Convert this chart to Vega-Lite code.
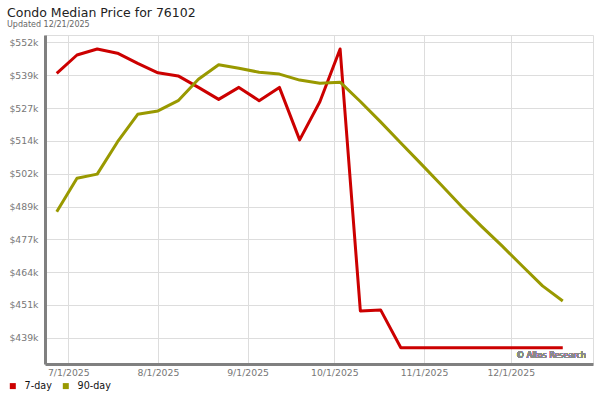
{
  "$schema": "https://vega.github.io/schema/vega-lite/v6.json",
  "autosize": {"type": "none"},
  "padding": {"left": 45, "top": 35, "right": 7, "bottom": 36},
  "width": 548,
  "height": 329,
  "background": "white",
  "config": {
    "font": "DejaVu Sans",
    "view": {"stroke": "#dddddd", "strokeWidth": 1},
    "axis": {"labelOverlap": false, "labelFlush": false}
  },
  "title": {
    "text": "Condo Median Price for 76102",
    "subtitle": "Updated 12/21/2025",
    "anchor": "start",
    "frame": "group",
    "dx": -38,
    "offset": 6,
    "font": "DejaVu Sans",
    "fontSize": 12.5,
    "fontWeight": "normal",
    "color": "#222222",
    "subtitleFont": "DejaVu Sans",
    "subtitleFontSize": 8,
    "subtitleColor": "#666666",
    "subtitlePadding": 2
  },
  "data": {
    "values": [
      {"date": "2025-06-27", "series": "7-day", "price": 540100},
      {"date": "2025-07-04", "series": "7-day", "price": 547100},
      {"date": "2025-07-11", "series": "7-day", "price": 549400},
      {"date": "2025-07-18", "series": "7-day", "price": 547800},
      {"date": "2025-07-25", "series": "7-day", "price": 543900},
      {"date": "2025-08-01", "series": "7-day", "price": 540300},
      {"date": "2025-08-08", "series": "7-day", "price": 539100},
      {"date": "2025-08-15", "series": "7-day", "price": 534700},
      {"date": "2025-08-22", "series": "7-day", "price": 530100},
      {"date": "2025-08-29", "series": "7-day", "price": 534700},
      {"date": "2025-09-05", "series": "7-day", "price": 529600},
      {"date": "2025-09-12", "series": "7-day", "price": 534700},
      {"date": "2025-09-19", "series": "7-day", "price": 514600},
      {"date": "2025-09-26", "series": "7-day", "price": 529200},
      {"date": "2025-10-03", "series": "7-day", "price": 549400},
      {"date": "2025-10-10", "series": "7-day", "price": 449100},
      {"date": "2025-10-17", "series": "7-day", "price": 449500},
      {"date": "2025-10-24", "series": "7-day", "price": 435000},
      {"date": "2025-10-31", "series": "7-day", "price": 435000},
      {"date": "2025-11-07", "series": "7-day", "price": 435000},
      {"date": "2025-11-14", "series": "7-day", "price": 435000},
      {"date": "2025-11-21", "series": "7-day", "price": 435000},
      {"date": "2025-11-28", "series": "7-day", "price": 435000},
      {"date": "2025-12-05", "series": "7-day", "price": 435000},
      {"date": "2025-12-12", "series": "7-day", "price": 435000},
      {"date": "2025-12-19", "series": "7-day", "price": 435000},
      {"date": "2025-06-27", "series": "90-day", "price": 487100},
      {"date": "2025-07-04", "series": "90-day", "price": 499900},
      {"date": "2025-07-11", "series": "90-day", "price": 501500},
      {"date": "2025-07-18", "series": "90-day", "price": 513800},
      {"date": "2025-07-25", "series": "90-day", "price": 524400},
      {"date": "2025-08-01", "series": "90-day", "price": 525700},
      {"date": "2025-08-08", "series": "90-day", "price": 529600},
      {"date": "2025-08-15", "series": "90-day", "price": 537800},
      {"date": "2025-08-22", "series": "90-day", "price": 543400},
      {"date": "2025-08-29", "series": "90-day", "price": 542000},
      {"date": "2025-09-05", "series": "90-day", "price": 540500},
      {"date": "2025-09-12", "series": "90-day", "price": 539800},
      {"date": "2025-09-19", "series": "90-day", "price": 537500},
      {"date": "2025-09-26", "series": "90-day", "price": 536300},
      {"date": "2025-10-03", "series": "90-day", "price": 536700},
      {"date": "2025-10-10", "series": "90-day", "price": 529300},
      {"date": "2025-10-17", "series": "90-day", "price": 521500},
      {"date": "2025-10-24", "series": "90-day", "price": 513400},
      {"date": "2025-10-31", "series": "90-day", "price": 505400},
      {"date": "2025-11-07", "series": "90-day", "price": 497300},
      {"date": "2025-11-14", "series": "90-day", "price": 489100},
      {"date": "2025-11-21", "series": "90-day", "price": 481400},
      {"date": "2025-11-28", "series": "90-day", "price": 474000},
      {"date": "2025-12-05", "series": "90-day", "price": 466300},
      {"date": "2025-12-12", "series": "90-day", "price": 458700},
      {"date": "2025-12-19", "series": "90-day", "price": 452900}
    ]
  },
  "encoding": {
    "x": {
      "field": "date",
      "type": "temporal",
      "scale": {
        "type": "utc",
        "domain": [
          {"year": 2025, "month": 6, "date": 22, "hours": 22, "minutes": 36, "utc": true},
          {"year": 2025, "month": 12, "date": 29, "hours": 11, "utc": true}
        ]
      },
      "axis": {
        "title": null,
        "values": [
          {"year": 2025, "month": 7, "date": 1, "utc": true},
          {"year": 2025, "month": 8, "date": 1, "utc": true},
          {"year": 2025, "month": 9, "date": 1, "utc": true},
          {"year": 2025, "month": 10, "date": 1, "utc": true},
          {"year": 2025, "month": 11, "date": 1, "utc": true},
          {"year": 2025, "month": 12, "date": 1, "utc": true}
        ],
        "labelExpr": "utcFormat(datum.value, '%-m/%-d/%Y')",
        "ticks": false,
        "labelPadding": 4,
        "labelFontSize": 9.3,
        "labelColor": "#777777",
        "labelFont": "DejaVu Sans",
        "domainColor": "#808080",
        "domainWidth": 3,
        "grid": true,
        "gridColor": "#dddddd",
        "gridWidth": 1,
        "labelFlush": false,
        "labelOverlap": false
      }
    },
    "y": {
      "field": "price",
      "type": "quantitative",
      "scale": {"domain": [428790, 554760], "zero": false, "nice": false},
      "axis": {
        "title": null,
        "values": [438850, 451410, 463970, 476530, 489090, 501650, 514210, 526770, 539330, 551890],
        "labelExpr": "'$' + format(datum.value / 1000, '.0f') + 'k'",
        "ticks": false,
        "labelPadding": 7,
        "labelFontSize": 9.3,
        "labelColor": "#777777",
        "labelFont": "DejaVu Sans",
        "labelOverlap": false,
        "labelFlush": false,
        "labelBound": false,
        "domainColor": "#808080",
        "domainWidth": 3,
        "grid": true,
        "gridColor": "#dddddd",
        "gridWidth": 1
      }
    }
  },
  "layer": [
    {
      "mark": {"type": "line", "strokeWidth": 3, "strokeJoin": "round", "strokeCap": "butt"},
      "encoding": {
        "color": {
          "field": "series",
          "type": "nominal",
          "scale": {"domain": ["7-day", "90-day"], "range": ["#cc0000", "#999900"]},
          "legend": {
            "title": null,
            "orient": "none",
            "direction": "horizontal",
            "legendX": -37,
            "legendY": 346,
            "symbolType": "square",
            "symbolSize": 36,
            "labelFontSize": 9.6,
            "labelFont": "DejaVu Sans",
            "labelColor": "#111111",
            "labelOffset": 7,
            "columnPadding": 9,
            "encode": {
              "symbols": {
                "update": {
                  "fill": {"scale": "color", "field": "value"},
                  "fillOpacity": {"value": 1},
                  "strokeWidth": {"value": 0}
                }
              }
            }
          }
        }
      }
    },
    {
      "mark": {"type": "text", "text": "© Altos Research", "align": "right", "baseline": "middle", "fontSize": 8, "font": "DejaVu Sans", "color": "#8a8a8a"},
      "encoding": {
        "x": {"datum": {"year": 2025, "month": 12, "date": 27, "utc": true}, "type": "temporal"},
        "y": {"datum": 431800, "type": "quantitative"}
      }
    }
  ]
}
